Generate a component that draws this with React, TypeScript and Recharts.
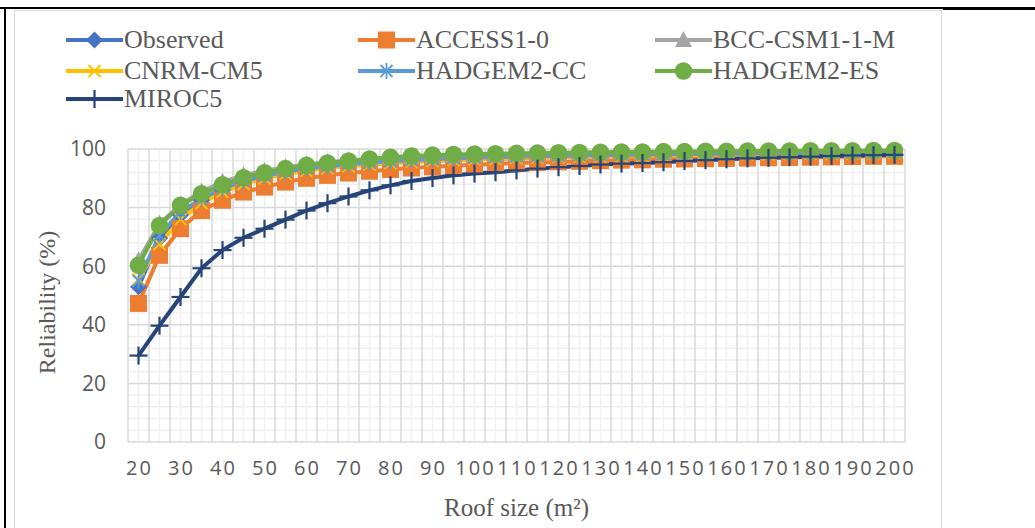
import React from 'react';
import { LineChart, Line, XAxis, YAxis, CartesianGrid, Legend, Label } from 'recharts';

const categories = [20, 25, 30, 35, 40, 45, 50, 55, 60, 65, 70, 75, 80, 85, 90, 95, 100, 105, 110, 115, 120, 125, 130, 135, 140, 145, 150, 155, 160, 165, 170, 175, 180, 185, 190, 195, 200];
const xTickLabels = [20, 30, 40, 50, 60, 70, 80, 90, 100, 110, 120, 130, 140, 150, 160, 170, 180, 190, 200];
const yTicks = [0, 20, 40, 60, 80, 100];

const observed = [53, 69.5, 77.5, 82.5, 86, 88.5, 90.3, 91.7, 92.8, 93.6, 94.2, 94.8, 95.3, 95.7, 96.0, 96.3, 96.5, 96.7, 96.9, 97.1, 97.2, 97.4, 97.5, 97.6, 97.7, 97.8, 97.9, 98.0, 98.1, 98.1, 98.2, 98.3, 98.3, 98.4, 98.4, 98.5, 98.5];
const access10 = [47.3, 63.7, 72.8, 79.0, 82.5, 85.3, 87.0, 88.7, 90.0, 91.0, 91.8, 92.4, 93.0, 93.5, 93.9, 94.3, 94.6, 94.9, 95.2, 95.4, 95.6, 95.8, 96.0, 96.2, 96.3, 96.5, 96.6, 96.7, 96.8, 96.9, 97.0, 97.1, 97.2, 97.3, 97.4, 97.5, 97.5];
const bccCsm = [62, 74.5, 81, 85.5, 88.8, 91.0, 92.6, 93.8, 94.8, 95.5, 96.1, 96.6, 97.0, 97.3, 97.6, 97.8, 98.0, 98.1, 98.3, 98.4, 98.5, 98.6, 98.7, 98.8, 98.8, 98.9, 99.0, 99.0, 99.1, 99.1, 99.2, 99.2, 99.2, 99.3, 99.3, 99.3, 99.3];
const cnrmCm5 = [55.5, 67.5, 76, 81.5, 85.3, 88, 90, 91.5, 92.6, 93.5, 94.2, 94.8, 95.2, 95.6, 96.0, 96.3, 96.5, 96.7, 96.9, 97.1, 97.3, 97.4, 97.5, 97.6, 97.7, 97.8, 97.9, 98.0, 98.1, 98.2, 98.2, 98.3, 98.4, 98.4, 98.5, 98.5, 98.6];
const hadgemCc = [55, 70.5, 78.5, 83, 86.5, 89, 90.8, 92.2, 93.3, 94.1, 94.8, 95.3, 95.8, 96.2, 96.5, 96.8, 97.0, 97.2, 97.4, 97.5, 97.7, 97.8, 97.9, 98.0, 98.1, 98.2, 98.3, 98.4, 98.4, 98.5, 98.6, 98.6, 98.7, 98.7, 98.8, 98.8, 98.9];
const hadgemEs = [60.3, 73.9, 80.8, 84.7, 87.8, 90.2, 91.9, 93.3, 94.4, 95.2, 95.9, 96.6, 97.2, 97.6, 97.9, 98.1, 98.3, 98.4, 98.5, 98.6, 98.7, 98.8, 98.9, 99.0, 99.0, 99.1, 99.1, 99.2, 99.2, 99.3, 99.3, 99.3, 99.4, 99.4, 99.4, 99.5, 99.5];
const miroc5 = [29.5, 39.7, 49.5, 59.3, 65.5, 69.7, 72.8, 75.9, 79.0, 81.5, 83.8, 85.9, 87.6, 89.1, 90.1, 91.0, 91.6, 92.1, 92.7, 93.3, 93.8, 94.2, 94.7, 95.0, 95.2, 95.5, 95.9, 96.2, 96.5, 96.8, 97.0, 97.2, 97.4, 97.6, 97.8, 97.9, 98.0];

const seriesNames = ['Observed', 'ACCESS1-0', 'BCC-CSM1-1-M', 'CNRM-CM5', 'HADGEM2-CC', 'HADGEM2-ES', 'MIROC5'];
const seriesKeys = ['observed', 'access10', 'bccCsm', 'cnrmCm5', 'hadgemCc', 'hadgemEs', 'miroc5'];
const seriesColors = ['#4472C4', '#ED7D31', '#A5A5A5', '#FFC000', '#5B9BD5', '#70AD47', '#264478'];
const seriesMarkers = ['diamond', 'square', 'triangle', 'x', 'asterisk', 'circle', 'plus'];
const seriesValues = [observed, access10, bccCsm, cnrmCm5, hadgemCc, hadgemEs, miroc5];

const data = categories.map((c, i) => {
  const row: Record<string, number> = { size: c };
  seriesKeys.forEach((k, s) => {
    row[k] = seriesValues[s][i];
  });
  return row;
});

const TEXT = '#595959';
const SERIF = '"Liberation Serif", "Times New Roman", serif';
const SANS = '"Open Sans", "Noto Sans", sans-serif';

function Marker({ type, cx, cy, color }: { type: string; cx: number; cy: number; color: string }) {
  switch (type) {
    case 'diamond':
      return <polygon points={`${cx},${cy - 8.5} ${cx + 8.5},${cy} ${cx},${cy + 8.5} ${cx - 8.5},${cy}`} fill={color} />;
    case 'square':
      return <rect x={cx - 8.5} y={cy - 8.5} width={17} height={17} fill={color} />;
    case 'triangle':
      return <polygon points={`${cx},${cy - 9} ${cx + 8.5},${cy + 7} ${cx - 8.5},${cy + 7}`} fill={color} />;
    case 'x':
      return (
        <g stroke={color} strokeWidth={2}>
          <line x1={cx - 6} y1={cy - 6} x2={cx + 6} y2={cy + 6} />
          <line x1={cx - 6} y1={cy + 6} x2={cx + 6} y2={cy - 6} />
        </g>
      );
    case 'asterisk':
      return (
        <g stroke={color} strokeWidth={1.8}>
          <line x1={cx - 6} y1={cy - 6} x2={cx + 6} y2={cy + 6} />
          <line x1={cx - 6} y1={cy + 6} x2={cx + 6} y2={cy - 6} />
          <line x1={cx} y1={cy - 8} x2={cx} y2={cy + 8} />
        </g>
      );
    case 'circle':
      return <circle cx={cx} cy={cy} r={8.8} fill={color} />;
    case 'plus':
      return (
        <g stroke={color} strokeWidth={2.2}>
          <line x1={cx} y1={cy - 9} x2={cx} y2={cy + 9} />
          <line x1={cx - 9} y1={cy} x2={cx + 9} y2={cy} />
        </g>
      );
    default:
      return null;
  }
}

const makeDot = (type: string, color: string) => (props: any) => {
  const { cx, cy, index } = props;
  if (cx == null || cy == null) return <g key={`d-${type}-${index}`} />;
  return (
    <g key={`d-${type}-${index}`}>
      <Marker type={type} cx={cx} cy={cy} color={color} />
    </g>
  );
};

const legendCols = [66, 358, 655];
const legendRows = [40, 71, 99];

const renderLegend = () => (
  <div style={{ position: 'relative', width: 1035, height: 120 }}>
    {seriesNames.map((name, i) => {
      const left = legendCols[i % 3];
      const top = legendRows[Math.floor(i / 3)];
      return (
        <div key={name} style={{ position: 'absolute', left, top: top - 15, height: 30, display: 'flex', alignItems: 'center' }}>
          <svg width={57} height={30} style={{ display: 'block' }}>
            <line x1={0} y1={15} x2={57} y2={15} stroke={seriesColors[i]} strokeWidth={4} strokeLinecap="round" />
            <Marker type={seriesMarkers[i]} cx={28.5} cy={15} color={seriesColors[i]} />
          </svg>
          <span style={{ fontFamily: SERIF, fontSize: 26, color: TEXT, marginLeft: 1, whiteSpace: 'nowrap', lineHeight: '30px' }}>{name}</span>
        </div>
      );
    })}
  </div>
);

const NCAT = categories.length;
const minorY = Array.from({ length: 26 }, (_, i) => i * 4).filter((v) => v % 20 !== 0);

const vMajor = ({ offset }: any) => Array.from({ length: NCAT + 1 }, (_, i) => offset.left + (offset.width * i) / NCAT);
const vMinor = ({ offset }: any) => categories.map((_, i) => offset.left + (offset.width * (i + 0.5)) / NCAT);
const hMajor = ({ offset }: any) => yTicks.map((v) => offset.top + offset.height * (1 - v / 100));
const hMinor = ({ offset }: any) => minorY.map((v) => offset.top + offset.height * (1 - v / 100));

const YTitle = (props: any) => {
  const vb = props.viewBox || { x: 0, y: 0, width: 0, height: 0 };
  const cx = vb.x + 39;
  const cy = vb.y + vb.height / 2 + 7;
  return (
    <text x={cx} y={cy} transform={`rotate(-90 ${cx} ${cy})`} textAnchor="middle" dominantBaseline="central" fill={TEXT} fontFamily={SERIF} fontSize={24}>
      Reliability (%)
    </text>
  );
};

const XTitle = (props: any) => {
  const vb = props.viewBox || { x: 0, y: 0, width: 0, height: 0 };
  const cx = vb.x + vb.width / 2;
  const cy = vb.y + 65;
  return (
    <text x={cx} y={cy} textAnchor="middle" dominantBaseline="central" fill={TEXT} fontFamily={SERIF} fontSize={25}>
      Roof size (m²)
    </text>
  );
};

export default function App() {
  return (
    <div style={{ position: 'absolute', left: 0, top: 0, width: 1035, height: 528, background: '#fff', overflow: 'hidden' }}>
      <div style={{ position: 'absolute', left: 0, top: 7, width: 1035, height: 2, background: '#000' }} />
      <div style={{ position: 'absolute', left: 943, top: 7, width: 92, height: 3, background: '#000' }} />
      <div style={{ position: 'absolute', left: 4, top: 7, width: 2, height: 521, background: '#000' }} />
      <div style={{ position: 'absolute', left: 14, top: 10, width: 928, height: 530, border: '1.5px solid #d9d9d9', boxSizing: 'border-box' }} />
      <div style={{ position: 'absolute', left: 0, top: 0 }}>
        <LineChart width={1035} height={528} data={data} margin={{ top: 149, right: 130, left: 8, bottom: 46 }}>
          <CartesianGrid stroke="#f0f0f0" strokeWidth={1.5} verticalCoordinatesGenerator={vMinor} horizontalCoordinatesGenerator={hMinor} />
          <CartesianGrid stroke="#d9d9d9" strokeWidth={1.5} verticalCoordinatesGenerator={vMajor} horizontalCoordinatesGenerator={hMajor} />
          <XAxis
            dataKey="size"
            type="category"
            ticks={xTickLabels}
            interval={0}
            padding={{ left: 10.5, right: 10.5 }}
            axisLine={false}
            tickLine={false}
            tickSize={0}
            tickMargin={19}
            height={40}
            tick={{ fill: TEXT, fontFamily: SANS, fontSize: 20, letterSpacing: 2, dx: 1 }}
          >
            <Label content={<XTitle />} />
          </XAxis>
          <YAxis
            type="number"
            domain={[0, 100]}
            ticks={yTicks}
            interval={0}
            axisLine={false}
            tickLine={false}
            tickSize={0}
            tickMargin={22}
            width={120}
            tick={{ fill: TEXT, fontFamily: SANS, fontSize: 21 }}
          >
            <Label content={<YTitle />} />
          </YAxis>
          <Legend layout="vertical" align="center" verticalAlign="middle" content={renderLegend} wrapperStyle={{ position: 'absolute', left: 0, top: 0, width: 1035, height: 120 }} />
          {seriesKeys.map((k, i) => (
            <Line
              key={k}
              type="linear"
              dataKey={k}
              name={seriesNames[i]}
              stroke={seriesColors[i]}
              strokeWidth={4}
              dot={makeDot(seriesMarkers[i], seriesColors[i])}
              activeDot={false}
              isAnimationActive={false}
            />
          ))}
        </LineChart>
      </div>
    </div>
  );
}
